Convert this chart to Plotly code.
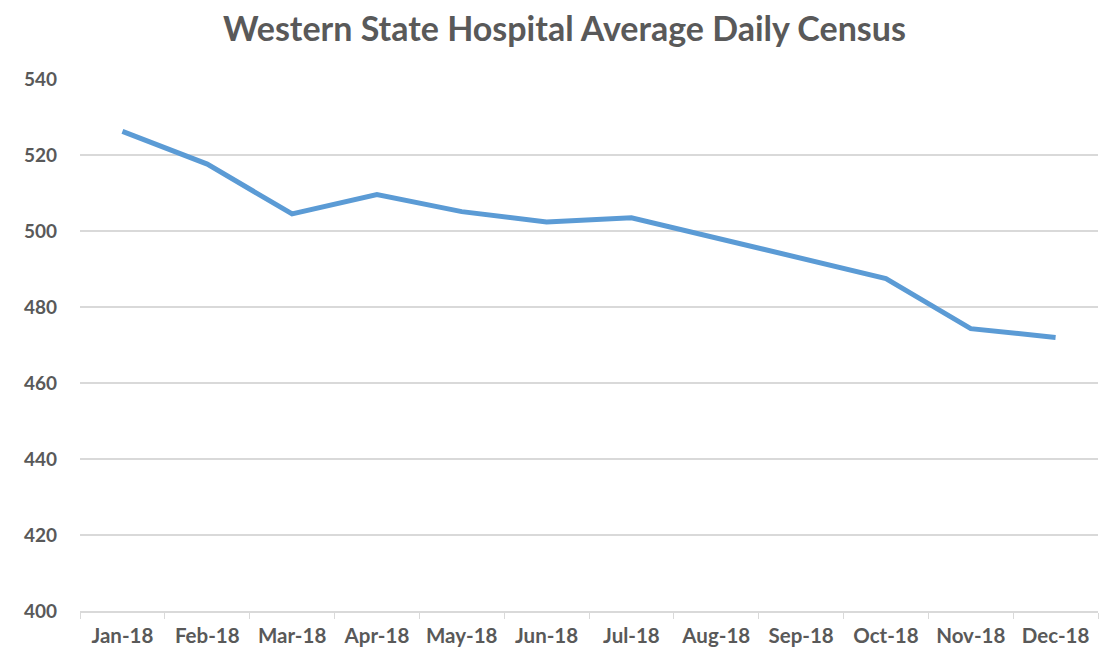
import plotly.graph_objects as go

months = ["Jan-18", "Feb-18", "Mar-18", "Apr-18", "May-18", "Jun-18",
          "Jul-18", "Aug-18", "Sep-18", "Oct-18", "Nov-18", "Dec-18"]
census = [526.2, 517.6, 504.5, 509.6, 505.1, 502.4,
          503.5, 498.2, 492.8, 487.5, 474.3, 472.0]
y_ticks = [400, 420, 440, 460, 480, 500, 520, 540]

fig = go.Figure()
fig.add_trace(go.Scatter(
    x=months, y=census, mode="lines",
    line=dict(color="#5B9BD5", width=5),
    hoverinfo="x+y", showlegend=False,
))

fig.update_layout(
    width=1102, height=646,
    paper_bgcolor="white", plot_bgcolor="white",
    margin=dict(l=72, r=12, t=71, b=43, autoexpand=False),
    title=dict(text="<b>Western State Hospital Average Daily Census</b>",
               x=0.505, xanchor="center", y=0.968, yanchor="middle",
               font=dict(family="Lato", size=34, color="#595959")),
    font=dict(family="Lato", color="#595959"),
)
fig.update_xaxes(
    type="category", range=[-0.5, len(months) - 0.5],
    tickson="boundaries", ticks="outside", ticklen=6,
    tickcolor="#D9D9D9", showline=True, linecolor="#D9D9D9", linewidth=1.5,
    showgrid=False, automargin=False,
    tickfont=dict(family="Lato", size=20.5, color="#595959", weight="bold"),
    ticklabelstandoff=6,
)
fig.update_yaxes(
    range=[400, 540], tickvals=y_ticks, showgrid=True, gridcolor="#D9D9D9",
    gridwidth=1.5, zeroline=False, showline=False, ticks="", automargin=False,
    tickfont=dict(family="Lato", size=19, color="#595959", weight="bold"),
    ticklabelstandoff=22,
)

fig.write_html("out.html")
